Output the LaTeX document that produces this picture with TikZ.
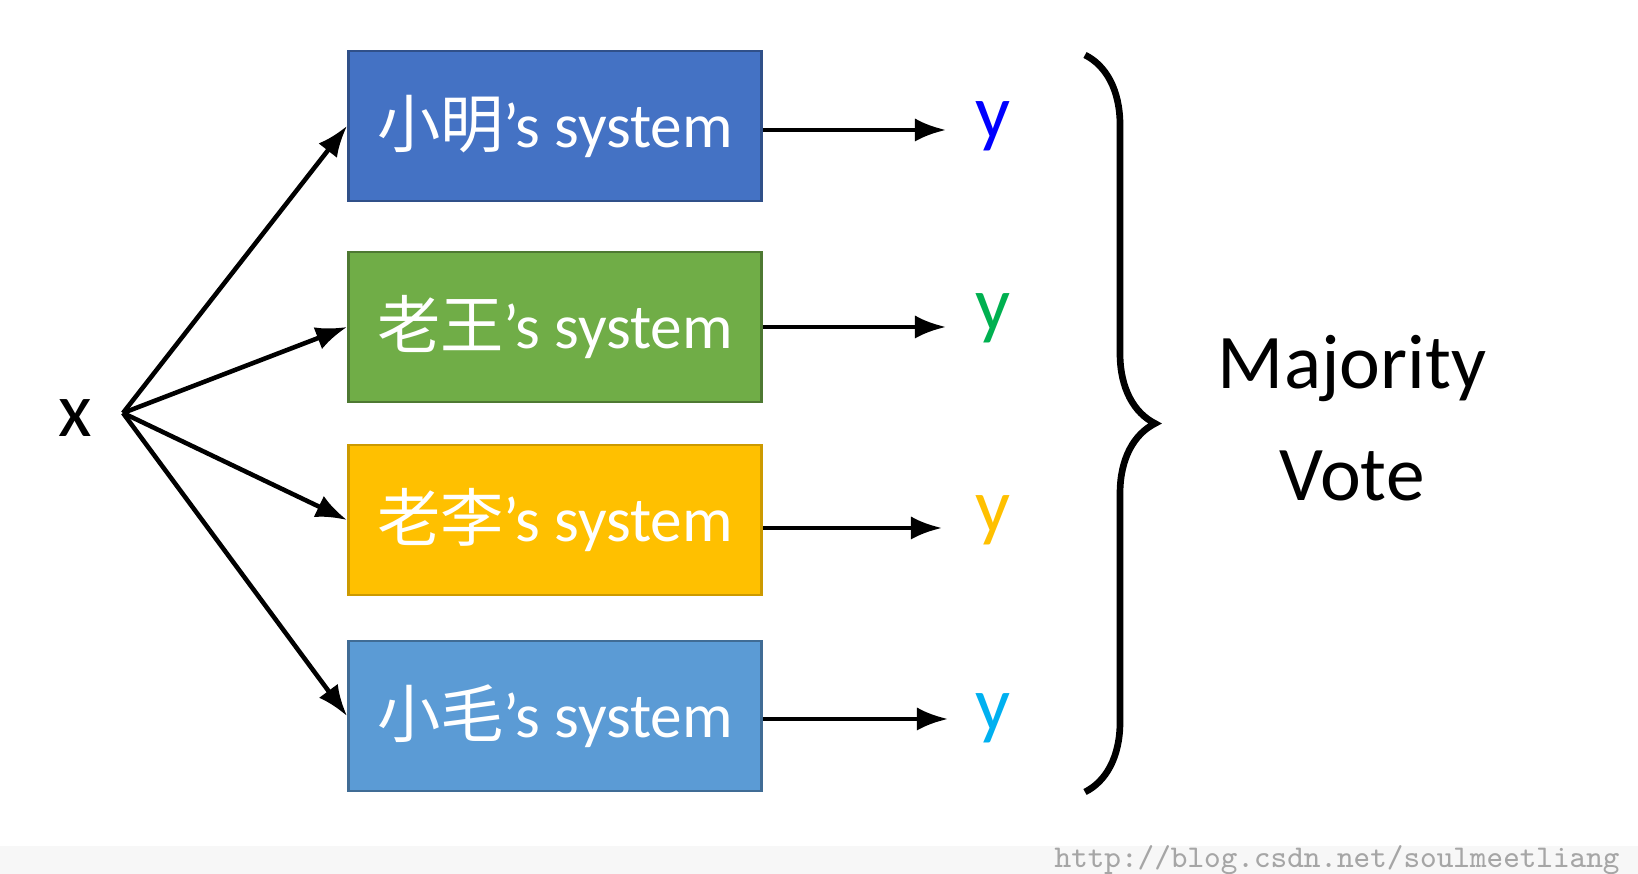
\documentclass[tikz,border=0pt]{standalone}
\usepackage{fontspec}
\setmainfont{Carlito}
\newfontfamily\cjk{Noto Sans CJK SC}
\usetikzlibrary{positioning,arrows.meta,decorations.pathreplacing}
\definecolor{sysblue}{HTML}{4472C4}
\definecolor{sysgreen}{HTML}{70AD47}
\definecolor{sysyellow}{HTML}{FFC000}
\definecolor{syslight}{HTML}{5B9BD5}
\definecolor{yblue}{HTML}{0000FF}
\definecolor{ygreen}{HTML}{00B050}
\definecolor{ycyan}{HTML}{00B0F0}
\begin{document}
\begin{tikzpicture}[x=0.01cm,y=-0.01cm]
	\tikzstyle{sys}=[rectangle, minimum width=4.13cm, minimum height=1.5cm, line width=0.8pt, text=white, font=\fontsize{18}{22}\selectfont]
	\tikzstyle{connect}=[-Latex, line width=1.3pt]
	\tikzstyle{vout}=[font=\fontsize{22}{26}\selectfont]
	\useasboundingbox (0,0) rectangle (1638,874);
	\fill[black!3] (0,846) rectangle (1638,874);

	\node (x) at (75,418) {\fontsize{22}{26}\selectfont x};
	\coordinate (xs) at (123,413);

	\node[sys, fill=sysblue, draw=sysblue!70!black] (s1) at (555,126) {{\cjk 小明}’s system};
	\node[sys, fill=sysgreen, draw=sysgreen!70!black] (s2) at (555,327) {{\cjk 老王}’s system};
	\node[sys, fill=sysyellow, draw=sysyellow!80!black] (s3) at (555,520) {{\cjk 老李}’s system};
	\node[sys, fill=syslight, draw=syslight!70!black] (s4) at (555,716) {{\cjk 小毛}’s system};

	\node[vout, text=yblue] (y1) at (993,126) {y};
	\node[vout, text=ygreen] (y2) at (993,318) {y};
	\node[vout, text=sysyellow] (y3) at (993,520) {y};
	\node[vout, text=ycyan] (y4) at (993,718) {y};

	\path (xs) edge [connect] (s1.west);
	\path (xs) edge [connect] (s2.west);
	\path (xs) edge [connect] (s3.west);
	\path (xs) edge [connect] (s4.west);

	\coordinate (e1) at (946,130);
	\coordinate (e2) at (946,327);
	\coordinate (e3) at (942,528);
	\coordinate (e4) at (948,719);
	\draw[connect] (s1.east |- e1) -- (e1);
	\draw[connect] (s2.east |- e2) -- (e2);
	\draw[connect] (s3.east |- e3) -- (e3);
	\draw[connect] (s4.east |- e4) -- (e4);

	\coordinate (btop) at (1085,55);
	\coordinate (bbot) at (1085,792);
	\draw[line width=1.9pt, decorate, decoration={brace, amplitude=0.7cm}] (btop) -- (bbot);

	\node[align=center, font=\fontsize{22}{32}\selectfont] (vote) at (1352,418) {Majority\\Vote};
	\node[text=black!35, font=\ttfamily\small, anchor=east] (url) at (1632,860) {http://blog.csdn.net/soulmeetliang};
\end{tikzpicture}
\end{document}
